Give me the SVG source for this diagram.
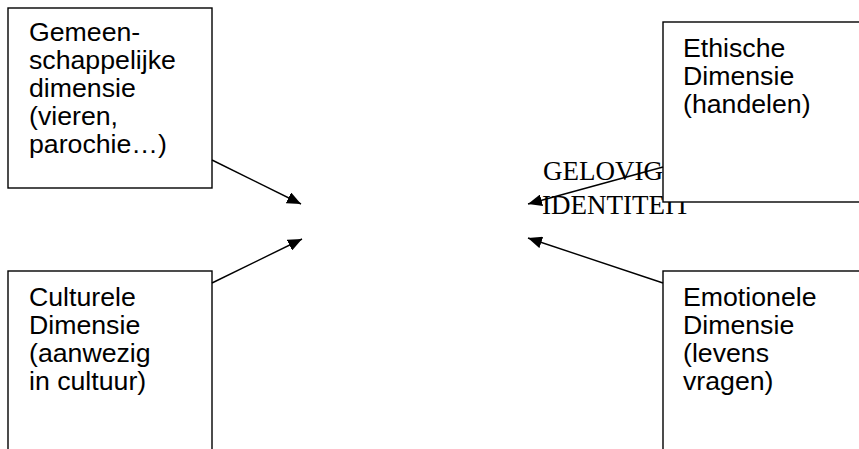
<svg xmlns="http://www.w3.org/2000/svg" width="859" height="449" viewBox="0 0 859 449">
  <style>
    .box { fill: #ffffff; stroke: #000000; stroke-width: 1.4; }
    .lbl { font-family: "Liberation Sans", Arial, sans-serif; font-size: 26.7px; fill: #000000; }
    .center { font-family: "Liberation Serif", "Times New Roman", serif; font-size: 27px; fill: #000000; }
    .conn { stroke: #000000; stroke-width: 1.4; fill: none; marker-end: url(#arrow); }
  </style>
  <defs>
    <marker id="arrow" markerUnits="userSpaceOnUse" viewBox="0 0 14 12" refX="14" refY="6" markerWidth="14" markerHeight="12" orient="auto">
      <path d="M0,0 L14,6 L0,12 z" fill="#000000"/>
    </marker>
  </defs>
  <rect width="859" height="449" fill="#ffffff"/>

  <g id="center-label">
    <text class="center" x="543" y="180">GELOVIGE</text>
    <text class="center" x="542" y="214">IDENTITEIT</text>
  </g>

  <g id="node-gemeenschappelijk">
    <rect class="box" x="8" y="8" width="204" height="180"/>
    <text class="lbl" x="29" y="41">Gemeen-</text>
    <text class="lbl" x="29" y="69">schappelijke</text>
    <text class="lbl" x="29" y="97">dimensie</text>
    <text class="lbl" x="29" y="125">(vieren,</text>
    <text class="lbl" x="29" y="153">parochie…)</text>
  </g>

  <g id="node-ethisch">
    <rect class="box" x="663" y="22" width="220" height="180"/>
    <text class="lbl" x="683" y="57">Ethische</text>
    <text class="lbl" x="683" y="85">Dimensie</text>
    <text class="lbl" x="683" y="113">(handelen)</text>
  </g>

  <g id="node-cultureel">
    <rect class="box" x="8" y="271" width="204" height="200"/>
    <text class="lbl" x="29" y="306">Culturele</text>
    <text class="lbl" x="29" y="334">Dimensie</text>
    <text class="lbl" x="29" y="362">(aanwezig</text>
    <text class="lbl" x="29" y="390">in cultuur)</text>
  </g>

  <g id="node-emotioneel">
    <rect class="box" x="663" y="271" width="220" height="200"/>
    <text class="lbl" x="683" y="306">Emotionele</text>
    <text class="lbl" x="683" y="334">Dimensie</text>
    <text class="lbl" x="683" y="362">(levens</text>
    <text class="lbl" x="683" y="390">vragen)</text>
  </g>

  <g id="connectors">
    <line class="conn" x1="212" y1="160" x2="301" y2="204"/>
    <line class="conn" x1="212" y1="283" x2="302" y2="239"/>
    <line class="conn" x1="663" y1="167" x2="528" y2="204"/>
    <line class="conn" x1="663" y1="283" x2="528" y2="238"/>
  </g>
</svg>
